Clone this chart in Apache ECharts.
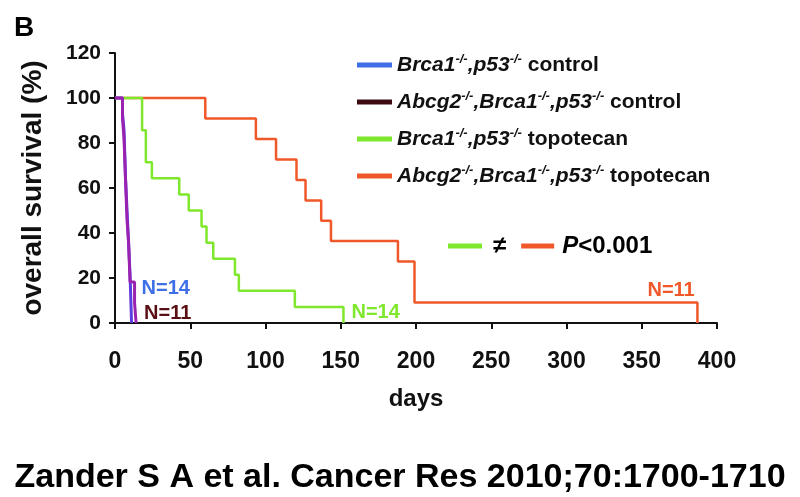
<!DOCTYPE html>
<html>
<head>
<meta charset="utf-8">
<script src="https://cdn.jsdelivr.net/npm/echarts@6/dist/echarts.min.js"></script>
<style>html,body{margin:0;padding:0;background:#fff}#c{width:800px;height:497px}</style>
</head>
<body>
<div id="c"></div>
<script>
// ---- data (Kaplan-Meier steps: day of event, survival % after event) ----
const xTicks = [0, 50, 100, 150, 200, 250, 300, 350, 400];
const yTicks = [0, 20, 40, 60, 80, 100, 120];

const blueDays   = [0, 5, 6, 7, 8, 9, 10, 11];
const blueSurv   = [100, 92.9, 85.7, 64.3, 50.0, 35.7, 21.4, 0];

const brownDays  = [0, 5, 6, 7, 8, 9, 10, 13, 14];
const brownSurv  = [100, 90.9, 81.8, 63.6, 45.5, 36.4, 18.2, 9.1, 0];

const greenDays  = [0, 18, 20.5, 24.5, 42.7, 49, 57.5, 60.8, 65.3, 79.7, 82.3, 119.5, 151.8];
const greenSurv  = [100, 85.7, 71.4, 64.3, 57.1, 50.0, 42.9, 35.7, 28.6, 21.4, 14.3, 7.1, 0];

const orangeDays = [0, 60, 93.6, 107, 120.6, 126.6, 137, 143.5, 188, 199, 387];
const orangeSurv = [100, 90.9, 81.8, 72.7, 63.6, 54.5, 45.5, 36.4, 27.3, 9.1, 0];

const seriesNames = ['Brca1 control', 'Abcg2 Brca1 control', 'Brca1 topotecan', 'Abcg2 Brca1 topotecan'];
const nLabels = ['N=14', 'N=11', 'N=14', 'N=11'];

const zip = (a, b) => a.map((d, i) => [d, b[i]]);

const FONT = '"Liberation Sans", Arial, sans-serif';
const legendColors = ['#3f6fe6', '#3d0a12', '#7fe82c', '#f0582a'];
const lineColors   = ['#5a3ee0', '#9a22b0', '#7fe82c', '#f0582a'];
const labelColors  = ['#3f6fe6', '#5a0f14', '#7fe82c', '#f0582a'];

const legendRich = {
  i: {fontStyle: 'italic', fontWeight: 'bold', fontSize: 21, fontFamily: FONT, color: '#111', lineHeight: 24},
  s: {fontStyle: 'italic', fontWeight: 'bold', fontSize: 13, fontFamily: FONT, color: '#111', lineHeight: 24, verticalAlign: 'top'},
  n: {fontWeight: 'bold', fontSize: 21, fontFamily: FONT, color: '#111', lineHeight: 24}
};
const legendText = {
  'Brca1 control': '{i|Brca1}{s|-/-}{i|,p53}{s|-/-}{n| control}',
  'Abcg2 Brca1 control': '{i|Abcg2}{s|-/-}{i|,Brca1}{s|-/-}{i|,p53}{s|-/-}{n| control}',
  'Brca1 topotecan': '{i|Brca1}{s|-/-}{i|,p53}{s|-/-}{n| topotecan}',
  'Abcg2 Brca1 topotecan': '{i|Abcg2}{s|-/-}{i|,Brca1}{s|-/-}{i|,p53}{s|-/-}{n| topotecan}'
};

const allData = [zip(blueDays, blueSurv), zip(brownDays, brownSurv), zip(greenDays, greenSurv), zip(orangeDays, orangeSurv)];
const endOffsets = [[2, -35], [0, -10], [0, -11], [-58, -33]];

const chart = echarts.init(document.getElementById('c'));
chart.setOption({
  animation: false,
  backgroundColor: '#fff',
  title: [
    {text: 'B', left: 9, top: 9, textStyle: {fontSize: 28, fontWeight: 'bold', fontFamily: FONT, color: '#000'}},
    {text: 'Zander S A et al. Cancer Res 2010;70:1700-1710', left: 'center', top: 456,
     textStyle: {fontSize: 34, fontWeight: 'bold', fontFamily: FONT, color: '#000'}}
  ],
  grid: {left: 115, top: 53, width: 602, height: 270, containLabel: false},
  legend: {
    orient: 'vertical', left: 352, top: 48, itemGap: 14.5,
    itemWidth: 35, itemHeight: 5, icon: 'rect',
    data: seriesNames.map((n, i) => ({name: n, itemStyle: {color: legendColors[i]}})),
    formatter: name => legendText[name],
    textStyle: {rich: legendRich, fontFamily: FONT}
  },
  xAxis: {
    type: 'value', min: 0, max: 400, interval: 50,
    name: 'days', nameLocation: 'middle', nameGap: 64,
    nameTextStyle: {fontSize: 24, fontWeight: 'bold', fontFamily: FONT, color: '#111'},
    axisLine: {lineStyle: {color: '#111', width: 2}},
    axisTick: {show: true, length: 6, lineStyle: {color: '#111', width: 2}},
    axisLabel: {fontSize: 23, fontWeight: 'bold', fontFamily: FONT, color: '#111', margin: 27,
                formatter: v => xTicks.includes(v) ? String(v) : ''},
    splitLine: {show: false}
  },
  yAxis: {
    type: 'value', min: 0, max: 120, interval: 20,
    name: 'overall survival (%)', nameLocation: 'middle', nameGap: 68,
    nameTextStyle: {fontSize: 28, fontWeight: 'bold', fontFamily: FONT, color: '#111'},
    axisLine: {show: true, lineStyle: {color: '#111', width: 2}},
    axisTick: {show: true, length: 6, lineStyle: {color: '#111', width: 2}},
    axisLabel: {fontSize: 21, fontWeight: 'bold', fontFamily: FONT, color: '#111', margin: 14,
                formatter: v => yTicks.includes(v) ? String(v) : ''},
    splitLine: {show: false}
  },
  graphic: [{
    type: 'text', left: 448, top: 234,
    style: {
      text: '{g|}{t|≠}{o|}{p|P}{t2|<0.001}',
      rich: {
        g: {width: 34, height: 5, backgroundColor: '#7fe82c'},
        o: {width: 33, height: 5, backgroundColor: '#f0582a'},
        t: {fontSize: 24, fontWeight: 'bold', fontFamily: FONT, color: '#111', padding: [0, 15, 0, 11]},
        t2: {fontSize: 24, fontWeight: 'bold', fontFamily: FONT, color: '#111'},
        p: {fontSize: 24, fontWeight: 'bold', fontStyle: 'italic', fontFamily: FONT, color: '#111', padding: [0, 0, 0, 8]}
      }
    }
  }],
  series: seriesNames.map((n, i) => ({
    name: n, type: 'line', step: 'end', data: allData[i],
    symbol: 'none', z: [3, 4, 2, 1][i],
    itemStyle: {color: legendColors[i]},
    lineStyle: {color: lineColors[i], width: i < 2 ? 3 : 2.5},
    endLabel: {show: true, formatter: nLabels[i], offset: endOffsets[i],
               color: labelColors[i],
               fontSize: 20, fontWeight: 'bold', fontFamily: FONT}
  }))
});
</script>
</body>
</html>
